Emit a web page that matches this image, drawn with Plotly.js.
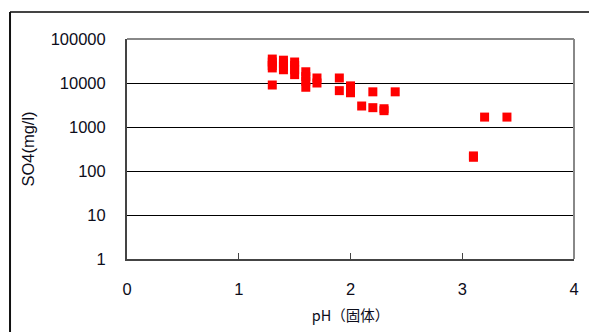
<!DOCTYPE html>
<html>
<head>
<meta charset="utf-8">
<script src="https://cdn.plot.ly/plotly-3.0.1.min.js"></script>
<style>html,body{margin:0;padding:0;background:#fff;}#chart{width:589px;height:332px;}</style>
</head>
<body>
<div id="chart"></div>
<script>
// Data
var pH = [1.3, 1.3, 1.3, 1.3, 1.3,
          1.4, 1.4, 1.4, 1.4,
          1.5, 1.5, 1.5, 1.5,
          1.6, 1.6, 1.6, 1.6,
          1.7, 1.7,
          1.9, 1.9,
          2.0, 2.0, 2.0,
          2.1,
          2.2, 2.2,
          2.3, 2.3,
          2.4,
          3.1, 3.1,
          3.2,
          3.4];
var so4 = [35000, 30000, 25000, 22000, 9000,
           33000, 28000, 24000, 20000,
           30000, 25000, 20000, 15500,
           18000, 14000, 11000, 8000,
           13000, 10000,
           13000, 6700,
           8600, 7000, 6000,
           3000,
           6300, 2750,
           2600, 2350,
           6300,
           220, 205,
           1680,
           1680];
var xTicks = [0, 1, 2, 3, 4];
var yTicks = [1, 10, 100, 1000, 10000, 100000];
var yTickText = ['1', '10', '100', '1000', '10000', '100000'];

var trace = {
  x: pH, y: so4, type: 'scatter', mode: 'markers',
  marker: {symbol: 'square', size: 9, color: '#ff0000', line: {width: 0}},
  showlegend: false, cliponaxis: false
};

var tickFont = {family: 'Liberation Sans, Arial, sans-serif', size: 16.5, color: '#0d0d1a'};

var layout = {
  width: 589, height: 332,
  margin: {l: 127, r: 15, t: 39, b: 73},
  paper_bgcolor: '#ffffff', plot_bgcolor: '#ffffff',
  font: {family: 'Liberation Sans, Arial, sans-serif', size: 15, color: '#111'},
  xaxis: {
    range: [0, 4], tickvals: xTicks, ticktext: xTicks.map(String),
    ticks: 'inside', ticklen: 6, tickcolor: '#444', tickwidth: 1,
    showline: true, linecolor: '#444', linewidth: 2,
    showgrid: false, zeroline: false,
    ticklabelstandoff: 14,
    tickfont: tickFont,
    title: {text: 'pH（固体）', font: {family: 'Noto Sans CJK JP, Liberation Sans, sans-serif', size: 14.5, color: '#0d0d1a'}, standoff: 14},
    fixedrange: true
  },
  yaxis: {
    type: 'log', range: [0, 5], tickvals: yTicks, ticktext: yTickText,
    ticks: '', showline: true, linecolor: '#444', linewidth: 2,
    showgrid: true, gridcolor: '#000000', gridwidth: 1, zeroline: false,
    ticklabelstandoff: 16,
    tickfont: tickFont,
    title: {text: 'SO4(mg/l)', font: {family: 'Liberation Sans, Arial, sans-serif', size: 16.5, color: '#0d0d1a'}, standoff: 12},
    fixedrange: true
  },
  shapes: [
    // plot area top and right border
    {type: 'line', xref: 'paper', yref: 'paper', x0: 0, x1: 1, y0: 1, y1: 1, line: {color: '#888', width: 2}},
    {type: 'line', xref: 'paper', yref: 'paper', x0: 1, x1: 1, y0: 0, y1: 1, line: {color: '#888', width: 2}},
    // outer frame
    {type: 'line', xref: 'paper', yref: 'paper', x0: -0.2617, x1: 1.04, y0: 1.1227, y1: 1.1227, line: {color: '#444', width: 2}},
    {type: 'line', xref: 'paper', yref: 'paper', x0: -0.2617, x1: -0.2617, y0: 1.1227, y1: -0.34, line: {color: '#111', width: 2}}
  ]
};

Plotly.newPlot('chart', [trace], layout, {displayModeBar: false, staticPlot: true});
</script>
</body>
</html>
